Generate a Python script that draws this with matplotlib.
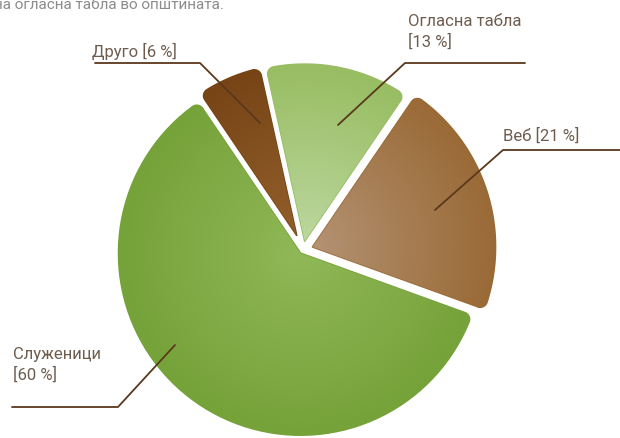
import numpy as np
import matplotlib
matplotlib.use("Agg")
import matplotlib.pyplot as plt
from matplotlib.path import Path
from matplotlib.patches import PathPatch
from matplotlib.colors import LinearSegmentedColormap

W, H = 620, 438

# data
labels = ["Огласна табла", "Веб", "Служеници", "Друго"]
values = [13, 21, 60, 6]
label_text = ["Огласна табла\n[13 %]", "Веб [21 %]", "Служеници\n[60 %]", "Друго [6 %]"]
title_text = "на огласна табла во општината."

# style (light near centre -> dark at rim)
light = ["#bcd79f", "#b39273", "#90b857", "#925f2b"]
dark = ["#98bd62", "#9a6a36", "#76a23a", "#774416"]
explode_px = [9, 10, 4, 16]
radii = [177, 183, 182, 171]
R = 182
cx, cy = 303, H - 250


def sy(y):
    return H - y


def rounded_sector(c, r, t1, t2, rho=7, n=80):
    x0, y0 = c
    d = np.degrees(np.arcsin(rho / (r - rho)))
    side = (r - rho) * np.cos(np.radians(d))
    pts = [(x0, y0)]
    a = np.radians(t1)
    pts.append((x0 + side * np.cos(a), y0 + side * np.sin(a)))
    fa = np.radians(t1 + d)
    fc = (x0 + (r - rho) * np.cos(fa), y0 + (r - rho) * np.sin(fa))
    for ang in np.radians(np.linspace(t1 - 90, t1 + d, 12)):
        pts.append((fc[0] + rho * np.cos(ang), fc[1] + rho * np.sin(ang)))
    for ang in np.radians(np.linspace(t1 + d, t2 - d, n)):
        pts.append((x0 + r * np.cos(ang), y0 + r * np.sin(ang)))
    fa = np.radians(t2 - d)
    fc = (x0 + (r - rho) * np.cos(fa), y0 + (r - rho) * np.sin(fa))
    for ang in np.radians(np.linspace(t2 - d, t2 + 90, 12)):
        pts.append((fc[0] + rho * np.cos(ang), fc[1] + rho * np.sin(ang)))
    a = np.radians(t2)
    pts.append((x0 + side * np.cos(a), y0 + side * np.sin(a)))
    pts.append((x0, y0))
    return Path(pts, closed=True)


fig = plt.figure(figsize=(W / 100, H / 100), dpi=100)
ax = fig.add_axes([0, 0, 1, 1])

# explode is added to the centre in data units here
wedges, _ = ax.pie(values, startangle=102.5, counterclock=False,
                   explode=explode_px, center=(cx, cy), radius=R)

for i, w in enumerate(wedges):
    w.set_visible(False)
    r = radii[i]
    path = rounded_sector(w.center, r, w.theta1, w.theta2)
    patch = PathPatch(path, facecolor=dark[i], edgecolor=dark[i], lw=1.2,
                      joinstyle="round", zorder=1)
    ax.add_patch(patch)
    wx, wy = w.center
    ext = (wx - r - 20, wx + r + 20, wy - r - 20, wy + r + 20)
    gx, gy = np.meshgrid(np.linspace(ext[0], ext[1], 300),
                         np.linspace(ext[2], ext[3], 300))
    dist = np.clip(np.hypot(gx - wx, gy - wy) / r, 0, 1)
    cmap = LinearSegmentedColormap.from_list("s%d" % i, [light[i], dark[i]])
    im = ax.imshow(dist, cmap=cmap, origin="lower", vmin=0, vmax=1,
                   extent=ext, interpolation="bilinear", zorder=2)
    im.set_clip_path(patch)

# leader lines
lc = "#5a381c"
leaders = [
    [(525, 63), (405, 63), (338, 125)],
    [(620, 150), (503, 150), (435, 210)],
    [(12, 407), (118, 407), (175, 345)],
    [(95, 63), (200, 63), (260, 123)],
]
for seg in leaders:
    xs = [p[0] for p in seg]
    ys = [sy(p[1]) for p in seg]
    ax.plot(xs, ys, color=lc, lw=1.3, solid_capstyle="round", zorder=3)

# labels
tc = "#6e5d4e"
fnt = dict(family=["Roboto", "DejaVu Sans"], fontsize=12,
           color=tc, ha="left", linespacing=1.35, zorder=4)
ax.text(408, sy(14), label_text[0], va="top", **fnt)
ax.text(503, sy(128), label_text[1], va="top", **fnt)
ax.text(13, sy(347), label_text[2], va="top", **fnt)
ax.text(92, sy(43), label_text[3], va="top", **fnt)

ax.text(224, sy(9), title_text, family=["Roboto", "DejaVu Sans"], fontsize=11,
        color="#8c8c8c", ha="right", va="baseline")

ax.set_xlim(0, W)
ax.set_ylim(0, H)
ax.set_aspect("auto")
ax.axis("off")

fig.savefig("out.png", dpi=100)
